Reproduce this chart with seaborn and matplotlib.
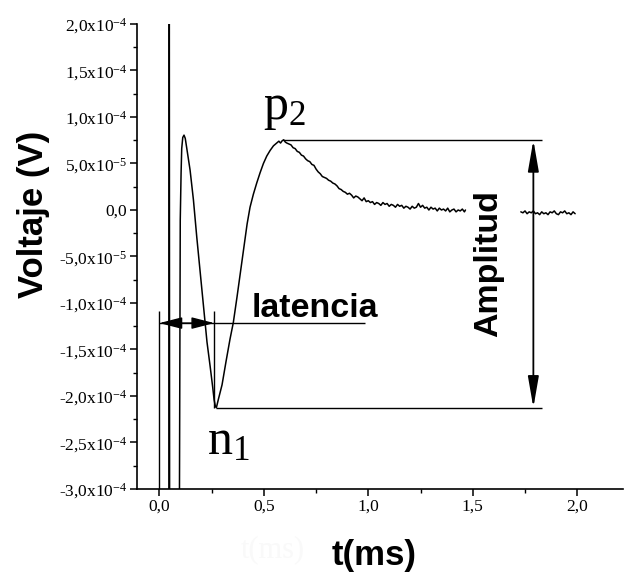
import matplotlib
matplotlib.use("Agg")
import numpy as np
import pandas as pd
import matplotlib.pyplot as plt
import seaborn as sns

# ---- evoked response trace (time in ms, voltage in units of 1e-5 V) ----
t_main = [0.0462, 0.0475, 0.0492, 0.095, 0.100, 0.104, 0.107, 0.112, 0.118, 0.124,
          0.134, 0.147, 0.163, 0.179, 0.195, 0.211, 0.228, 0.243, 0.255, 0.262,
          0.268, 0.273, 0.282, 0.300, 0.319, 0.338, 0.354, 0.372, 0.391, 0.405,
          0.420, 0.434, 0.450, 0.466, 0.482, 0.498, 0.514, 0.530, 0.546, 0.562,
          0.572, 0.580, 0.588, 0.595, 0.603, 0.610,
          0.62, 0.63, 0.64, 0.65, 0.66, 0.67, 0.68, 0.69, 0.70, 0.71,
          0.72, 0.73, 0.74, 0.75, 0.76, 0.77, 0.78, 0.79, 0.80, 0.81,
          0.82, 0.83, 0.84, 0.85, 0.86, 0.87, 0.88, 0.89, 0.90, 0.91,
          0.92, 0.93, 0.94, 0.95, 0.96, 0.97, 0.98, 0.99, 1.00, 1.01,
          1.02, 1.03, 1.04, 1.05, 1.06, 1.07, 1.08, 1.09, 1.10, 1.11,
          1.12, 1.13, 1.14, 1.15, 1.16, 1.17, 1.18, 1.19, 1.20, 1.21,
          1.22, 1.23, 1.24, 1.25, 1.26, 1.27, 1.28, 1.29, 1.30, 1.31,
          1.32, 1.33, 1.34, 1.35, 1.36, 1.37, 1.38, 1.39, 1.40, 1.41,
          1.42, 1.43, 1.44, 1.45, 1.46, 1.465]
v_main = [-40.0, 30.0, -40.0, -40.0, -1.1, 4.0, 6.6, 7.8, 8.05, 7.7,
          6.2, 4.3, 1.1, -2.9, -6.6, -10.4, -14.2, -16.8, -19.0, -20.4,
          -21.1, -21.25, -20.4, -18.8, -16.3, -13.9, -12.1, -9.3, -6.2, -3.9,
          -1.5, 0.3, 1.7, 2.9, 4.0, 5.0, 5.8, 6.4, 6.9, 7.2,
          7.4, 7.2, 7.45, 7.55, 7.3, 7.2,
          7.1, 7.0, 6.7, 6.6, 6.3, 6.2, 5.9, 5.8, 5.5, 5.3,
          5.2, 4.9, 4.8, 4.4, 4.1, 3.9, 3.6, 3.5, 3.4, 3.2,
          3.1, 2.9, 2.8, 2.6, 2.3, 2.2, 2.0, 1.9, 1.7, 1.8,
          1.6, 1.3, 1.5, 1.4, 1.2, 1.0, 1.3, 0.9, 1.0, 0.8,
          0.9, 0.6, 0.8, 0.7, 0.5, 0.8, 0.6, 0.7, 0.4, 0.6,
          0.5, 0.3, 0.6, 0.4, 0.5, 0.2, 0.4, 0.3, 0.1, 0.4,
          0.2, 0.3, 0.7, 0.3, 0.5, 0.2, 0.3, 0.0, 0.3, 0.1,
          0.2, -0.1, 0.2, 0.0, 0.1, -0.1, 0.2, -0.2, 0.0, 0.1,
          -0.2, 0.0, -0.1, 0.1, -0.2, 0.0]

t_tail = [1.73, 1.74, 1.75, 1.76, 1.77, 1.78, 1.79, 1.80, 1.81, 1.82,
          1.83, 1.84, 1.85, 1.86, 1.87, 1.88, 1.89, 1.90, 1.91, 1.92,
          1.93, 1.94, 1.95, 1.96, 1.97, 1.98, 1.99]
v_tail = [-0.2, -0.3, -0.1, -0.4, -0.2, -0.3, -0.1, -0.4, -0.3, -0.5,
          -0.2, -0.4, -0.3, -0.5, -0.2, -0.3, -0.1, -0.4, -0.5, -0.2,
          -0.3, -0.1, -0.4, -0.3, -0.5, -0.2, -0.4]

# ---- annotation values ----
t_stim = 0.0          # latency start
t_n1 = 0.263          # latency end (n1 trough)
v_latency = -12.16    # latency arrow level
v_marker_top = -10.9  # top of latency markers
v_p2 = 7.51           # p2 peak level
v_n1 = -21.25         # n1 trough level
t_p2 = 0.59
t_n1_line = 0.27
t_latency_line_end = 0.985
t_amp_arrow = 1.79
t_amp_line_end = 1.83

x_ticks = [0.0, 0.5, 1.0, 1.5, 2.0]
x_tick_labels = ["0,0", "0,5", "1,0", "1,5", "2,0"]
y_ticks = [-30, -25, -20, -15, -10, -5, 0, 5, 10, 15, 20]
y_tick_labels = [r"-3,0x10$^{\mathregular{-4}}$", r"-2,5x10$^{\mathregular{-4}}$",
                 r"-2,0x10$^{\mathregular{-4}}$", r"-1,5x10$^{\mathregular{-4}}$",
                 r"-1,0x10$^{\mathregular{-4}}$", r"-5,0x10$^{\mathregular{-5}}$",
                 "0,0", r"5,0x10$^{\mathregular{-5}}$", r"1,0x10$^{\mathregular{-4}}$",
                 r"1,5x10$^{\mathregular{-4}}$", r"2,0x10$^{\mathregular{-4}}$"]

SCALE = 1e-5

sns.set_theme(style="ticks")
plt.rcParams["font.family"] = ["Liberation Sans", "DejaVu Sans"]
plt.rcParams["mathtext.default"] = "regular"

df = pd.concat([
    pd.DataFrame({"t": t_main, "v": np.array(v_main) * SCALE, "segment": 0}),
    pd.DataFrame({"t": t_tail, "v": np.array(v_tail) * SCALE, "segment": 1}),
], ignore_index=True)

fig = plt.figure(figsize=(6.24, 5.77), dpi=100)
fig.patch.set_facecolor("white")
ax = fig.add_axes([137 / 624, 88 / 577, 486 / 624, 465 / 577])
ax.set_facecolor("white")

sns.lineplot(data=df, x="t", y="v", units="segment", estimator=None, sort=False,
             color="black", linewidth=1.1, legend=False, ax=ax)

ax.set_xlim(-0.107, 2.219)
ax.set_ylim(-30 * SCALE, 20 * SCALE)

# axes styling
sns.despine(ax=ax)
for side in ("left", "bottom"):
    ax.spines[side].set_linewidth(1.2)
    ax.spines[side].set_color("black")

ax.set_xticks(x_ticks)
ax.set_xticklabels(x_tick_labels)
ax.set_xticks([0.25, 0.75, 1.25, 1.75], minor=True)
ax.set_yticks(np.array(y_ticks) * SCALE)
ax.set_yticklabels(y_tick_labels)
ax.set_yticks(np.arange(-27.5, 20, 5) * SCALE, minor=True)
ax.tick_params(which="major", direction="out", length=5, width=1.1, color="black",
               labelsize=12.5, pad=2, labelcolor="black")
ax.tick_params(which="minor", direction="out", length=3, width=1.0, color="black")
for lab in ax.get_xticklabels() + ax.get_yticklabels():
    lab.set_family("Liberation Serif")

# axis labels
ax.set_xlabel("t(ms)", fontsize=25, fontweight="bold", color="black")
ax.xaxis.label.set_va("center")
ax.xaxis.set_label_coords((374 - 137) / 486, (489 - 556) / 465)
ax.set_ylabel("Voltaje (V)", fontsize=25, fontweight="bold", color="black")
ax.yaxis.label.set_rotation_mode("default")
ax.yaxis.label.set_va("center")
ax.yaxis.label.set_ha("center")
ax.yaxis.set_label_coords((33 - 137) / 486, (489 - 214) / 465)

line_kw = dict(color="black", linewidth=1.0, solid_capstyle="butt")

# latency markers and arrow
ax.plot([t_stim, t_stim], [v_marker_top * SCALE, -30 * SCALE], **line_kw)
ax.plot([t_n1, t_n1], [v_marker_top * SCALE, v_n1 * SCALE], **line_kw)
ax.plot([t_stim, t_latency_line_end], [v_latency * SCALE, v_latency * SCALE], **line_kw)
ax.annotate("", xy=(t_stim, v_latency * SCALE), xytext=(t_n1, v_latency * SCALE),
            arrowprops=dict(arrowstyle="<|-|>,head_length=1.4,head_width=0.36",
                            mutation_scale=10, lw=1.0, color="black",
                            shrinkA=0, shrinkB=0))
ax.text(0.745, -11.48 * SCALE, "latencia", ha="center", va="baseline",
        fontsize=24.5, fontweight="bold", color="black")

# amplitude guides and arrow
ax.plot([t_p2, t_amp_line_end], [v_p2 * SCALE, v_p2 * SCALE], **line_kw)
ax.plot([t_n1_line, t_amp_line_end], [v_n1 * SCALE, v_n1 * SCALE], **line_kw)
ax.annotate("", xy=(t_amp_arrow, v_p2 * SCALE), xytext=(t_amp_arrow, v_n1 * SCALE),
            arrowprops=dict(arrowstyle="<|-|>,head_length=1.9,head_width=0.33",
                            mutation_scale=10, lw=1.3, color="black",
                            shrinkA=0, shrinkB=0))
ax.text(1.575, -5.8 * SCALE, "Amplitud", rotation=90, ha="center", va="center",
        fontsize=24.5, fontweight="bold", color="black")

# peak names
ax.text(0.496, 9.76 * SCALE, r"p$_{\mathregular{2}}$", ha="left", va="baseline",
        fontsize=36, family="Liberation Serif", color="black")
ax.text(0.228, -26.3 * SCALE, r"n$_{\mathregular{1}}$", ha="left", va="baseline",
        fontsize=36, family="Liberation Serif", color="black")

# faint ghost of the axis title left from an earlier layout
fig.text(273 / 624, 1 - 550 / 577, "t(ms)", ha="center", va="center",
         fontsize=22, family="Liberation Serif", color="#f9f9f9")

fig.savefig("out.png", dpi=100, facecolor="white")
